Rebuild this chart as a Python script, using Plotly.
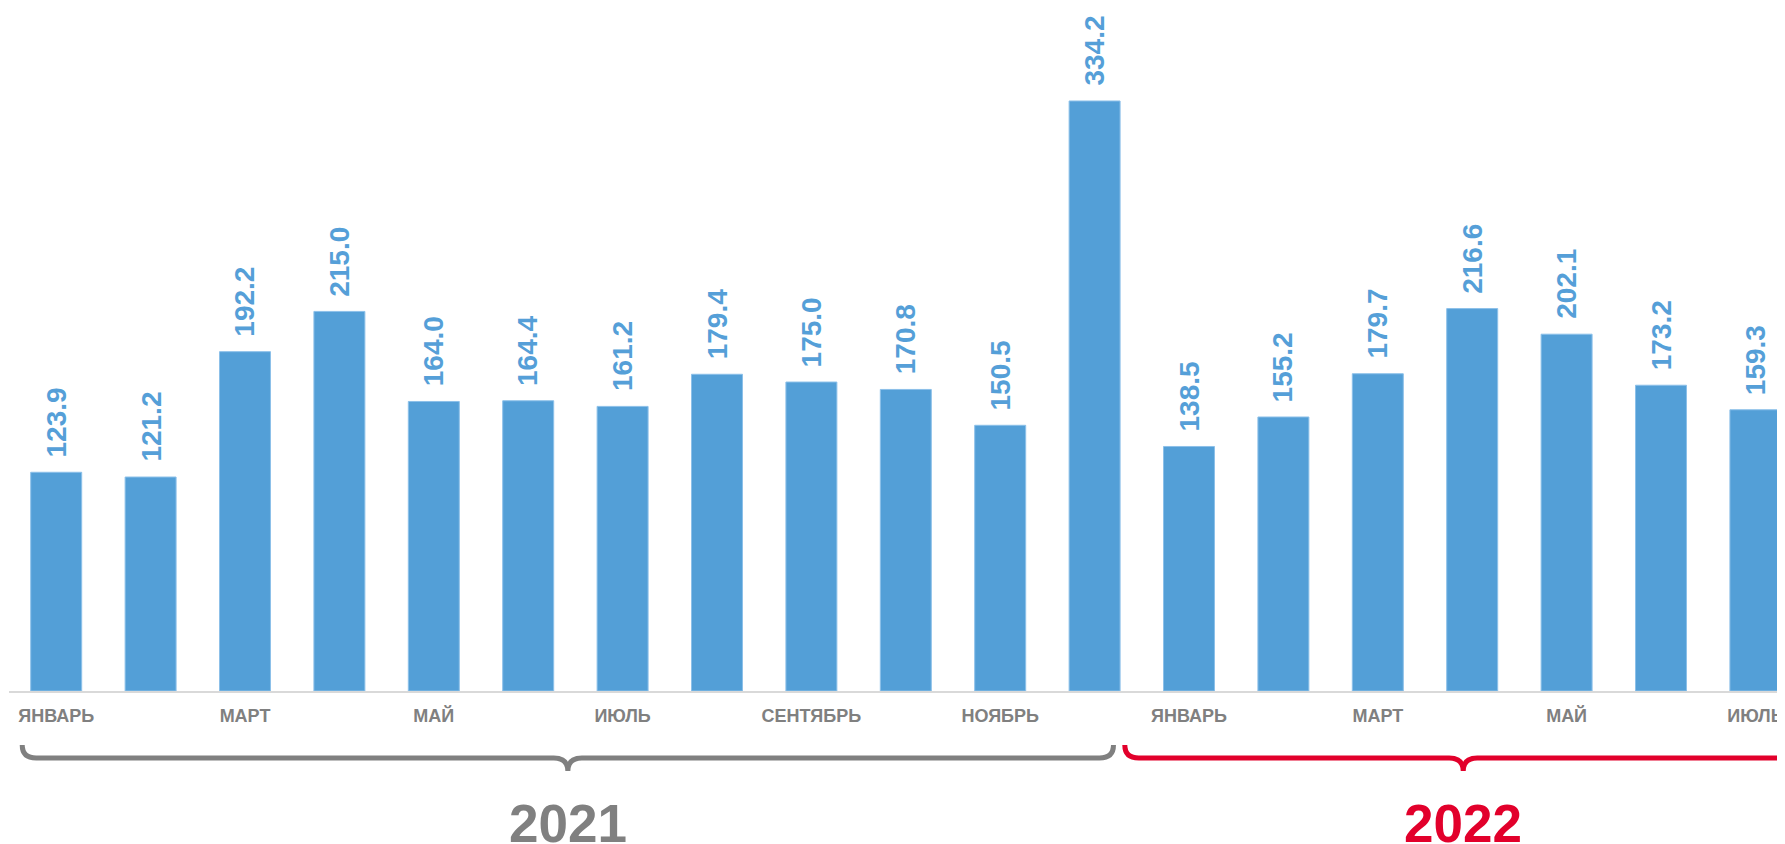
import plotly.graph_objects as go

months = ["ЯНВАРЬ", "ФЕВРАЛЬ", "МАРТ", "АПРЕЛЬ", "МАЙ", "ИЮНЬ", "ИЮЛЬ", "АВГУСТ",
          "СЕНТЯБРЬ", "ОКТЯБРЬ", "НОЯБРЬ", "ДЕКАБРЬ",
          "ЯНВАРЬ", "ФЕВРАЛЬ", "МАРТ", "АПРЕЛЬ", "МАЙ", "ИЮНЬ", "ИЮЛЬ"]
values = [123.9, 121.2, 192.2, 215.0, 164.0, 164.4, 161.2, 179.4, 175.0, 170.8, 150.5, 334.2,
          138.5, 155.2, 179.7, 216.6, 202.1, 173.2, 159.3]
years = ["2021", "2022"]

# page body has an 8px margin: figure coords = screen coords - OFF
OFF = 8
W, H = 1785 - OFF, 844 - OFF
AXIS_Y = 691 - OFF          # x-axis line position (figure px)
ML, MT = 1, 0
MB = H - AXIS_Y
PX_PER_UNIT = 1.7655
SPACING = 94.4

BLUE = "#539fd7"
LABEL_BLUE = "#559fd8"
GRAY = "#808080"
RED = "#e2002b"
FONT = "Liberation Sans, Arial, sans-serif"

x = list(range(len(values)))
tickvals = x[::2]
ticktext = [months[i] for i in tickvals]

fig = go.Figure()
fig.add_trace(go.Bar(
    x=x, y=values, width=0.54,
    marker=dict(color=BLUE, line=dict(color="#8cc0e9", width=1)),
    hoverinfo="skip",
))

annotations = []
for xi, v in zip(x, values):
    annotations.append(dict(
        x=xi, y=v, xref="x", yref="y", text=f"{v:.1f}", showarrow=False,
        textangle=-90, xanchor="center", yanchor="bottom", yshift=13,
        font=dict(family=FONT, size=28, color=LABEL_BLUE, weight="bold"),
    ))

plot_h = H - MT - MB


def py(screen_y):
    return (AXIS_Y - (screen_y - OFF)) / plot_h


brace_x = [(-0.36, 11.2), (11.32, 18.49)]
brace_col = [GRAY, RED]
shapes = []
rx = 14 / SPACING
for (x0, x1), yr, col in zip(brace_x, years, brace_col):
    xm = (x0 + x1) / 2
    y_top, y_line, y_tip = py(745), py(758), py(771)
    path = (f"M {x0},{y_top} Q {x0},{y_line} {x0+rx},{y_line} "
            f"L {xm-rx},{y_line} Q {xm},{y_line} {xm},{y_tip} "
            f"Q {xm},{y_line} {xm+rx},{y_line} "
            f"L {x1-rx},{y_line} Q {x1},{y_line} {x1},{y_top}")
    shapes.append(dict(type="path", path=path, xref="x", yref="paper",
                       line=dict(color=col, width=5), layer="above"))
    annotations.append(dict(
        x=xm, y=py(792), xref="x", yref="paper", text=yr, showarrow=False,
        xanchor="center", yanchor="top",
        font=dict(family=FONT, size=53, color=col, weight="bold"),
    ))

fig.update_layout(
    width=W, height=H,
    margin=dict(l=ML, r=0, t=MT, b=MB),
    paper_bgcolor="white", plot_bgcolor="white",
    showlegend=False,
    xaxis=dict(
        range=[-0.5, -0.5 + (W - ML) / SPACING],
        tickvals=tickvals, ticktext=ticktext,
        showgrid=False, zeroline=False,
        showline=True, linecolor="#d9d9d9", linewidth=2,
        ticks="", tickfont=dict(family=FONT, size=18, color=GRAY, weight="bold"),
        ticklabelstandoff=7,
    ),
    yaxis=dict(range=[0, plot_h / PX_PER_UNIT], visible=False),
    shapes=shapes,
    annotations=annotations,
)

fig.write_html("out.html")
